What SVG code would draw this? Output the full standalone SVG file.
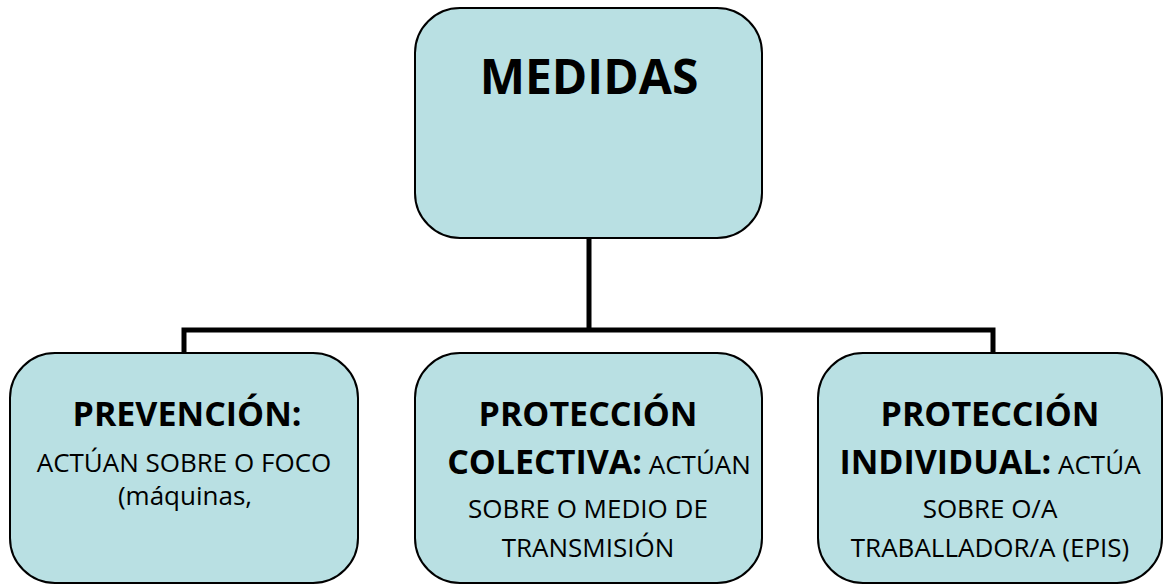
<svg xmlns="http://www.w3.org/2000/svg" width="1163" height="585" viewBox="0 0 1163 585">
<style>
.box{fill:#b9e0e3;stroke:#000;stroke-width:2}
.conn{fill:none;stroke:#000;stroke-width:5}
text{font-family:"Open Sans","Noto Sans",sans-serif;fill:#000;text-anchor:middle}
.h{font-weight:bold;font-size:34px}
.t{font-size:26px}
.big{font-weight:bold;font-size:48px}
</style>
<rect width="1163" height="585" fill="#fff"/>
<g id="connectors">
<path class="conn" d="M589 238V330M184 353V330H993V353"/>
</g>
<g id="medidas">
<rect class="box" x="415" y="8" width="347" height="230" rx="45"/>
<text class="big" x="589" y="94">MEDIDAS</text>
</g>
<g id="prevencion">
<rect class="box" x="10" y="353" width="348" height="230" rx="45"/>
<text class="h" x="187" y="426">PREVENCIÓN:</text>
<text class="t" x="184" y="472">ACTÚAN SOBRE O FOCO</text>
<text class="t" x="185" y="505">(máquinas,</text>
</g>
<g id="colectiva">
<rect class="box" x="415" y="353" width="347" height="230" rx="45"/>
<text class="h" x="588" y="426">PROTECCIÓN</text>
<text x="599" y="474"><tspan class="h">COLECTIVA:</tspan><tspan class="t"> ACTÚAN</tspan></text>
<text class="t" x="588" y="518">SOBRE O MEDIO DE</text>
<text class="t" x="588" y="557">TRANSMISIÓN</text>
</g>
<g id="individual">
<rect class="box" x="818" y="353" width="344" height="230" rx="45"/>
<text class="h" x="990" y="426">PROTECCIÓN</text>
<text x="990" y="474"><tspan class="h">INDIVIDUAL:</tspan><tspan class="t"> ACTÚA</tspan></text>
<text class="t" x="990" y="518">SOBRE O/A</text>
<text class="t" x="990" y="557">TRABALLADOR/A (EPIS)</text>
</g>
</svg>
